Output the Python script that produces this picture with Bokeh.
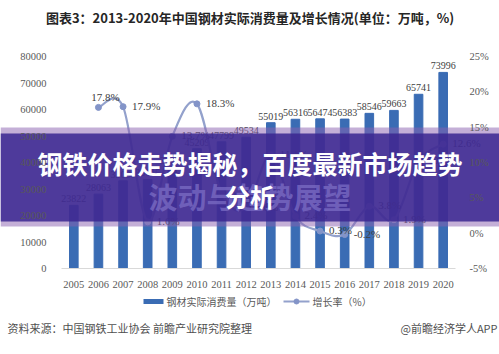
import numpy as np
from bokeh.plotting import figure
from bokeh.models import Range1d, LinearAxis, FixedTicker, PrintfTickFormatter
from bokeh.core.properties import value
from bokeh.embed import file_html
from bokeh.resources import INLINE

# ---------------- data ----------------
years = [2005, 2006, 2007, 2008, 2009, 2010, 2011, 2012,
         2013, 2014, 2015, 2016, 2017, 2018, 2019, 2020]
consumption = [23822, 28063, 33086, 33615, 38220, 45209, 47799, 49534,
               55019, 56316, 56474, 56383, 58546, 59663, 65741, 73996]
growth_years = [2006, 2007, 2008, 2009, 2010, 2011, 2012,
                2013, 2014, 2015, 2016, 2017, 2018, 2019, 2020]
growth = [17.8, 17.9, 1.6, 13.7, 18.3, 5.7, 3.6,
          11.1, 2.4, 0.3, -0.2, 3.8, 1.9, 10.2, 12.6]
value_ticks = [0, 10000, 20000, 30000, 40000, 50000, 60000, 70000, 80000]
pct_ticks = [-5, 0, 5, 10, 15, 20, 25]

title_text = "图表3：2013-2020年中国钢材实际消费量及增长情况(单位：万吨，%)"
legend_bar = "钢材实际消费量（万吨）"
legend_line = "增长率（%）"
source_text = "资料来源：中国钢铁工业协会 前瞻产业研究院整理"
credit_text = "@前瞻经济学人APP"
banner_line1 = "钢铁价格走势揭秘，百度最新市场趋势"
banner_line2 = "分析"
banner_ghost = "波动与趋势展望"

# ---------------- layout (pixels) ----------------
W, H = 499, 354
FL, FR, FT, FB = 61, 455, 56, 268          # plot area in canvas pixels
step = (FR - FL) / len(years)
yr_start = years[0] - 0.5 - FL / step
yr_end = years[0] - 0.5 + (W - FL) / step
vmax = value_ticks[-1]
val_per_px = vmax / (FB - FT)
pmin, pmax = pct_ticks[0], pct_ticks[-1]
pct_per_px = (pmax - pmin) / (FB - FT)

p = figure(width=W, height=H, x_range=Range1d(0, W), y_range=Range1d(H, 0),
           output_backend="svg", toolbar_location=None, min_border=0,
           x_axis_location=None, y_axis_location=None)
p.outline_line_color = None
p.background_fill_color = "white"
p.border_fill_color = "white"
p.grid.grid_line_color = None

p.extra_x_ranges = {"yr": Range1d(yr_start, yr_end)}
p.extra_y_ranges = {
    "val": Range1d(-(H - FB) * val_per_px, FB * val_per_px),
    "pct": Range1d(pmin - (H - FB) * pct_per_px, pmin + FB * pct_per_px),
}

TICK_FONT = "Liberation Serif"
TICK_COLOR = "#595959"

left = LinearAxis(y_range_name="val", fixed_location=FL,
                  ticker=FixedTicker(ticks=value_ticks),
                  formatter=PrintfTickFormatter(format="%d"))
right = LinearAxis(y_range_name="pct", fixed_location=FR,
                   ticker=FixedTicker(ticks=pct_ticks),
                   formatter=PrintfTickFormatter(format="%d%%"))
bottom = LinearAxis(x_range_name="yr", y_range_name="val", fixed_location=0,
                    ticker=FixedTicker(ticks=years),
                    formatter=PrintfTickFormatter(format="%d"),
                    bounds=(years[0] - 0.5, years[-1] + 0.5))
for ax in (left, right, bottom):
    ax.major_tick_line_color = None
    ax.minor_tick_line_color = None
    ax.major_label_text_font = TICK_FONT
    ax.major_label_text_font_size = "10.5px"
    ax.major_label_text_color = TICK_COLOR
left.axis_line_color = None
right.axis_line_color = None
left.major_label_standoff = 9
right.major_label_standoff = 8
bottom.axis_line_color = "#d9d9d9"
bottom.axis_line_width = 1
bottom.major_label_standoff = 6
p.add_layout(left, "left")
p.add_layout(right, "right")
p.add_layout(bottom, "below")

# ---------------- bars ----------------
BAR = "#3a6cb4"
p.vbar(x=years, top=consumption, bottom=0, width=0.35, color=BAR,
       x_range_name="yr", y_range_name="val")
p.text(x=years, y=consumption, text=[str(v) for v in consumption],
       x_range_name="yr", y_range_name="val",
       text_align="center", text_baseline="bottom", y_offset=-3,
       text_font=value(TICK_FONT), text_font_size="10px", text_color="#404040")

# ---------------- smoothed growth line ----------------
LINE = "#93a1cc"
gx = np.array(growth_years, dtype=float)
gy = np.array(growth, dtype=float)
px = np.concatenate([[gx[0]], gx, [gx[-1]]])
py = np.concatenate([[gy[0]], gy, [gy[-1]]])
i = np.arange(len(gx) - 1)
x0, y0 = gx[:-1], gy[:-1]
x1, y1 = gx[1:], gy[1:]
cx0 = x0 + (px[i + 2] - px[i]) / 6.0
cy0 = y0 + (py[i + 2] - py[i]) / 6.0
cx1 = x1 - (px[i + 3] - px[i + 1]) / 6.0
cy1 = y1 - (py[i + 3] - py[i + 1]) / 6.0
p.bezier(x0=x0, y0=y0, x1=x1, y1=y1, cx0=cx0, cy0=cy0, cx1=cx1, cy1=cy1,
         line_color=LINE, line_width=2.2, x_range_name="yr", y_range_name="pct")
p.scatter(x=growth_years, y=growth, size=6, marker="circle",
          fill_color="#8394c8", line_color="#8394c8",
          x_range_name="yr", y_range_name="pct")
labels = [f"{v:.1f}%" for v in growth]
p.text(x=growth_years[:1], y=growth[:1], text=labels[:1],
       x_range_name="yr", y_range_name="pct",
       text_align="center", text_baseline="middle", x_offset=7, y_offset=-10,
       text_font=value(TICK_FONT), text_font_size="11px", text_color="#404040")
p.text(x=growth_years[1:], y=growth[1:], text=labels[1:],
       x_range_name="yr", y_range_name="pct",
       text_align="left", text_baseline="middle", x_offset=9, y_offset=-1,
       text_font=value(TICK_FONT), text_font_size="11px", text_color="#404040")

# ---------------- title ----------------
CJK = "Noto Sans CJK SC"
p.text(x=[W / 2], y=[17], text=[title_text], text_align="center",
       text_baseline="middle", text_font=value(CJK), text_font_style="bold",
       text_font_size="13px", text_color="#262626")

# ---------------- legend ----------------
LY = 301
p.quad(left=[143], right=[163], top=[LY - 2.5], bottom=[LY + 2.5],
       fill_color=BAR, line_color=None)
p.text(x=[166], y=[LY], text=[legend_bar], text_align="left",
       text_baseline="middle", text_font=value(CJK), text_font_size="10px",
       text_color="#595959")
p.line(x=[283, 309], y=[LY, LY], line_color=LINE, line_width=2)
p.scatter(x=[296], y=[LY], size=5, marker="circle",
          fill_color="#8394c8", line_color="#8394c8")
p.text(x=[312], y=[LY], text=[legend_line], text_align="left",
       text_baseline="middle", text_font=value(CJK), text_font_size="10px",
       text_color="#595959")

# ---------------- footer ----------------
p.text(x=[7], y=[327], text=[source_text], text_align="left",
       text_baseline="middle", text_font=value(CJK), text_font_size="11px",
       text_color="#505050")
p.text(x=[497], y=[327], text=[credit_text], text_align="right",
       text_baseline="middle", text_font=value(CJK), text_font_size="11px",
       text_color="#505050")

# ---------------- banner overlay ----------------
p.quad(left=[0], right=[W], top=[127], bottom=[226],
       fill_color="#8a5fb0", fill_alpha=0.5, line_color=None)
p.quad(left=[0], right=[W], top=[133], bottom=[221],
       fill_color="#3a2790", fill_alpha=0.86, line_color=None)
p.text(x=[W / 2], y=[195], text=[banner_ghost], text_align="center",
       text_baseline="middle", text_font=value(CJK), text_font_style="bold",
       text_font_size="29px", text_color="#7a6cc4", text_alpha=0.75)
p.text(x=[W / 2], y=[162], text=[banner_line1], text_align="center",
       text_baseline="middle", text_font=value(CJK), text_font_style="bold",
       text_font_size="25px", text_color="white")
p.text(x=[W / 2], y=[195], text=[banner_line2], text_align="center",
       text_baseline="middle", text_font=value(CJK), text_font_style="bold",
       text_font_size="25px", text_color="white")

open("out.html", "w").write(file_html(p, INLINE))
